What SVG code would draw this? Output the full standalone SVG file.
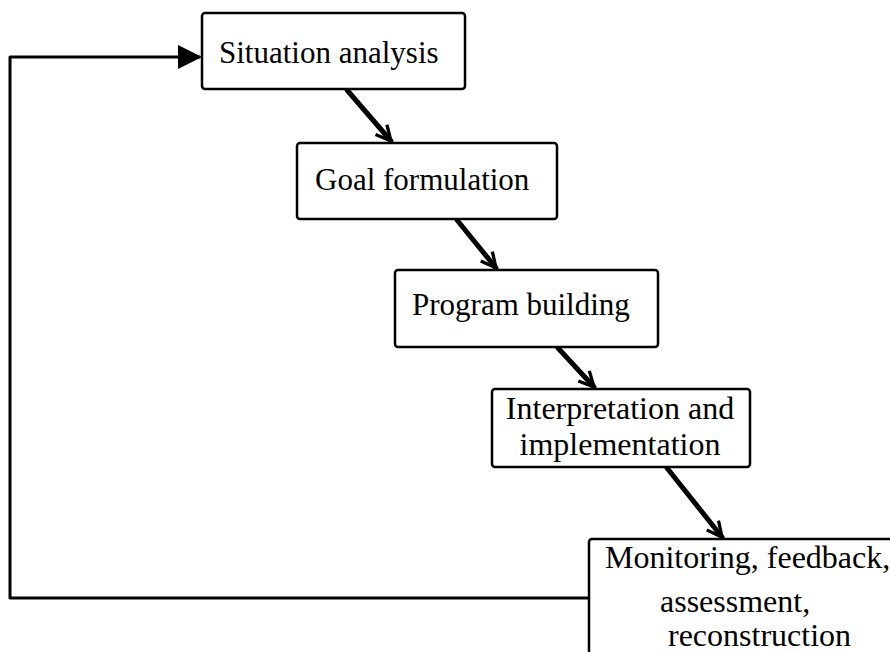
<svg xmlns="http://www.w3.org/2000/svg" width="890" height="652" viewBox="0 0 890 652">
  <defs>
    <style>
      .box { fill: #ffffff; stroke: #000000; stroke-width: 2.5; }
      .lbl { font-family: "Liberation Serif", "Times New Roman", serif; font-size: 31px; fill: #000000; }
      .lbl2 { font-family: "Liberation Serif", "Times New Roman", serif; font-size: 32px; fill: #000000; }
      .flow { fill: none; stroke: #000000; stroke-width: 5; stroke-linecap: round; }
      .fb { fill: none; stroke: #000000; stroke-width: 3; stroke-linejoin: round; }
    </style>
    <marker id="vhead" viewBox="0 0 12 12" refX="11" refY="6" markerWidth="3.6" markerHeight="3.6" orient="auto" markerUnits="strokeWidth">
      <path d="M1,1 L11,6 L1,11" fill="none" stroke="#000" stroke-width="2.2" stroke-linejoin="miter"/>
    </marker>
    <marker id="fhead" viewBox="0 0 12 12" refX="11" refY="6" markerWidth="8" markerHeight="8" orient="auto" markerUnits="strokeWidth">
      <path d="M0,0 L12,6 L0,12 Z" fill="#000"/>
    </marker>
  </defs>

  <g id="connectors">
    <line class="flow" x1="347" y1="90" x2="391" y2="141" marker-end="url(#vhead)"/>
    <line class="flow" x1="457" y1="220" x2="496" y2="268" marker-end="url(#vhead)"/>
    <line class="flow" x1="558" y1="348" x2="594" y2="387" marker-end="url(#vhead)"/>
    <line class="flow" x1="667" y1="468" x2="722" y2="537" marker-end="url(#vhead)"/>
    <polyline class="fb" points="589,598 10,598 10,57 200,57" marker-end="url(#fhead)"/>
  </g>

  <g id="situation-analysis">
    <rect class="box" x="202" y="13" width="263" height="76" rx="3"/>
    <text class="lbl" x="219" y="63">Situation analysis</text>
  </g>

  <g id="goal-formulation">
    <rect class="box" x="297" y="143" width="260" height="76" rx="3"/>
    <text class="lbl" x="315" y="190">Goal formulation</text>
  </g>

  <g id="program-building">
    <rect class="box" x="395" y="270" width="263" height="77" rx="3"/>
    <text class="lbl" x="412" y="315">Program building</text>
  </g>

  <g id="interpretation">
    <rect class="box" x="492" y="389" width="258" height="78" rx="3"/>
    <text class="lbl2" x="620" y="419" text-anchor="middle">Interpretation and</text>
    <text class="lbl2" x="620" y="455" text-anchor="middle">implementation</text>
  </g>

  <g id="monitoring">
    <rect class="box" x="589" y="539" width="320" height="130" rx="3"/>
    <text class="lbl2" x="605" y="568">Monitoring, feedback,</text>
    <text class="lbl2" x="660" y="612">assessment,</text>
    <text class="lbl2" x="668" y="646">reconstruction</text>
  </g>
</svg>
